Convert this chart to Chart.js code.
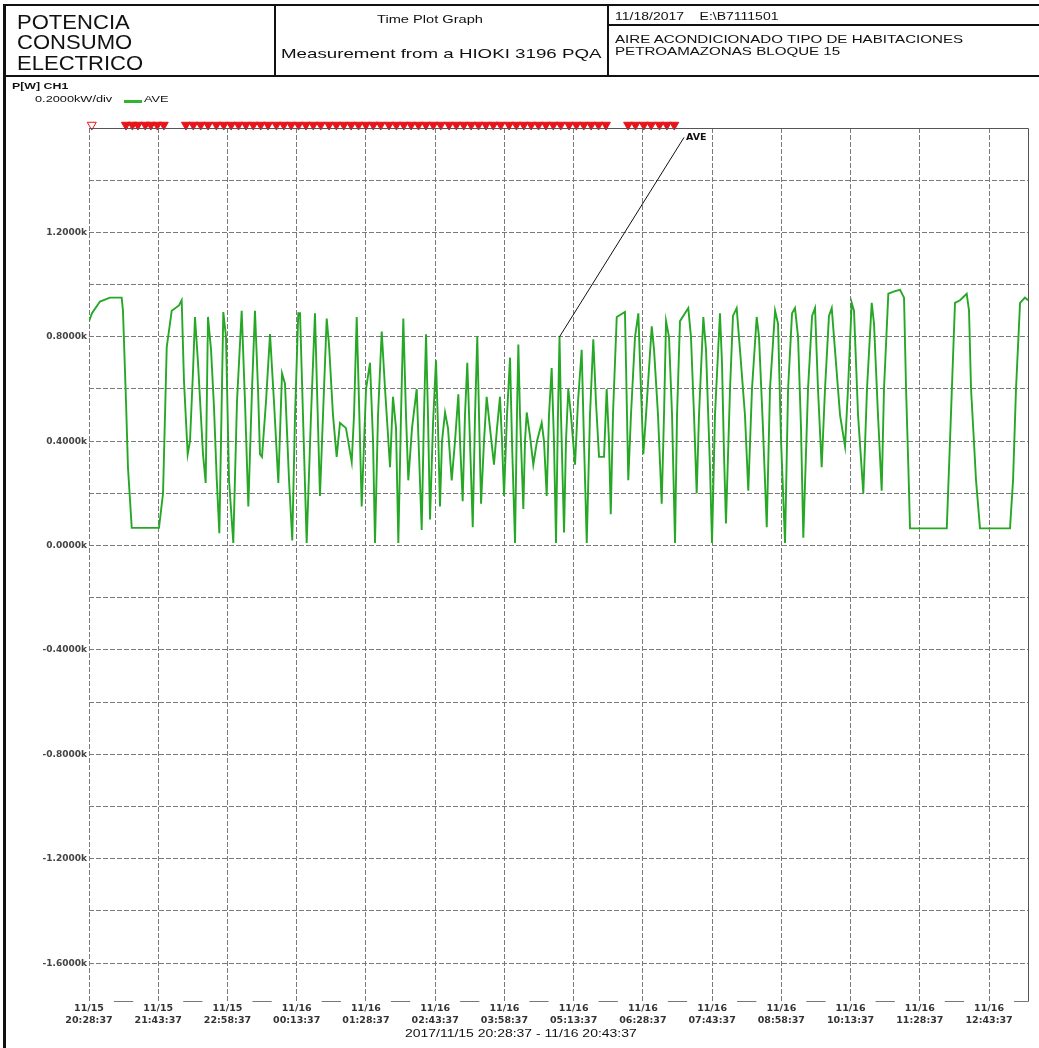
<!DOCTYPE html>
<html>
<head>
<meta charset="utf-8">
<title>Potencia consumo electrico</title>
<script src="https://cdn.jsdelivr.net/npm/chart.js@4.4.0/dist/chart.umd.min.js"></script>
<style>
    html, body { margin: 0; padding: 0; background: #fff; }
    #page { position: relative; width: 1039px; height: 1048px; overflow: hidden;
            font-family: "Liberation Sans", Arial, sans-serif; color: #111; }
    #plot { position: absolute; left: 0; top: 0; }
    .ln { position: absolute; background: #111; }
    .tx { position: absolute; white-space: pre; transform-origin: 0 0; line-height: 1; }
</style>
</head>
<body>
<div id="page">
    <canvas id="plot" width="1039" height="1048"></canvas>

    <!-- report frame -->
    <div class="ln" style="left:3px;top:4px;width:3px;height:1044px;"></div>
    <div class="ln" style="left:3px;top:4px;width:1036px;height:2px;"></div>
    <div class="ln" style="left:3px;top:75px;width:1036px;height:2px;"></div>
    <div class="ln" style="left:274px;top:4px;width:1.5px;height:72px;"></div>
    <div class="ln" style="left:607px;top:4px;width:1.5px;height:72px;"></div>
    <div class="ln" style="left:607px;top:24px;width:432px;height:1.5px;"></div>

    <!-- header -->
    <div class="tx" style="left:17px;top:11px;font-size:21px;transform:scaleX(1.05);">POTENCIA</div>
    <div class="tx" style="left:17px;top:31px;font-size:21px;transform:scaleX(1.05);">CONSUMO</div>
    <div class="tx" style="left:17px;top:52px;font-size:21px;transform:scaleX(1.05);">ELECTRICO</div>
    <div class="tx" style="left:377px;top:13.5px;font-size:11px;transform:scaleX(1.33);">Time Plot Graph</div>
    <div class="tx" style="left:281px;top:46.5px;font-size:13px;transform:scaleX(1.44);">Measurement from a HIOKI 3196 PQA</div>
    <div class="tx" style="left:615px;top:11.7px;font-size:10px;transform:scaleX(1.4);">11/18/2017    E:\B7111501</div>
    <div class="tx" style="left:615px;top:33.6px;font-size:10.5px;transform:scaleX(1.44);">AIRE ACONDICIONADO TIPO DE HABITACIONES</div>
    <div class="tx" style="left:615px;top:45.6px;font-size:10.5px;transform:scaleX(1.44);">PETROAMAZONAS BLOQUE 15</div>

    <!-- channel caption and legend -->
    <div class="tx" style="left:12px;top:81px;font-size:9.5px;font-weight:bold;transform:scaleX(1.3);">P[W] CH1</div>
    <div class="tx" style="left:35px;top:95px;font-size:8.5px;transform:scaleX(1.5);">0.2000kW/div</div>
    <div class="ln" style="left:124px;top:99.5px;width:18px;height:3px;background:#2fb52f;"></div>
    <div class="tx" style="left:144px;top:95px;font-size:8.5px;transform:scaleX(1.5);">AVE</div>

    <!-- time span under the axis -->
    <div class="tx" style="left:405px;top:1027.5px;font-size:11px;transform:scaleX(1.27);">2017/11/15 20:28:37 - 11/16 20:43:37</div>
</div>

<script>
// minutes since 11/15 20:28:37
var powerTimes = [
    0, 3.2, 11.9, 22.7, 35.4, 36.8, 40.1, 42.2, 46.3, 75.8,
    80.2, 84.2, 89.6, 97.5, 100.4, 102.9, 106.9, 109.4, 112.7, 114.8,
    118.1, 123.5, 126.4, 128.9, 132.2, 135.4, 138.3, 141.2, 145.5, 148.4,
    151.7, 156.3, 160.3, 165.4, 169.0, 172.6, 176.6, 179.8, 183.1, 185.2,
    187.4, 191.7, 196.1, 200.4, 205.1, 209.1, 212.3, 216.7, 220.2, 223.2,
    226.7, 228.6, 231.8, 235.8, 240.5, 244.8, 247.0, 250.2, 253.5, 257.5,
    260.0, 264.3, 268.3, 271.9, 278.4, 284.6, 287.1, 290.0, 292.5, 295.4,
    300.1, 304.4, 307.7, 309.8, 313.1, 317.1, 320.7, 326.1, 329.3, 332.6,
    335.1, 338.0, 340.5, 343.4, 345.9, 349.9, 355.0, 357.5, 360.4, 362.9,
    365.1, 367.2, 369.4, 372.7, 375.9, 378.1, 380.2, 382.4, 385.7, 388.9,
    392.9, 396.5, 400.1, 401.9, 404.8, 407.3, 409.8, 412.7, 415.7, 418.2,
    420.6, 422.5, 424.7, 427.9, 430.8, 434.4, 438.7, 442.0, 445.2, 447.4,
    449.6, 452.8, 456.1, 458.2, 461.5, 463.6, 465.1, 466.9, 470.5, 472.3,
    474.2, 477.7, 481.3, 485.3, 490.4, 492.9, 495.8, 498.3, 501.2, 503.7,
    505.9, 508.0, 509.7, 511.3, 514.6, 516.7, 519.2, 522.1, 526.5, 529.7,
    533.7, 536.2, 539.2, 542.7, 546.3, 549.2, 552.5, 557.9, 560.8, 563.3,
    565.2, 567.6, 571.7, 580.6, 581.7, 584.2, 587.1, 591.5, 595.1, 596.9,
    600.5, 603.4, 609.6, 612.1, 616.4, 620.4, 622.9, 625.1, 628.3, 631.6,
    634.8, 637.0, 640.2, 649.2, 652.1, 655.4, 658.3, 660.8, 665.5, 668.4,
    672.7, 674.9, 678.1, 683.5, 685.7, 687.9, 690.0, 694.4, 697.6, 701.6,
    705.2, 710.6, 714.2, 718.2, 723.3, 725.8, 730.1, 734.2, 737.7, 743.2,
    746.4, 749.7, 754.0, 757.3, 761.6, 764.8, 768.1, 771.3, 773.8, 778.9,
    783.3, 786.5, 789.7, 793.7, 797.3, 801.6, 804.6, 808.1, 813.6, 819.0,
    822.2, 826.2, 828.7, 833.1, 838.8, 842.8, 847.9, 850.4, 854.7, 858.7,
    861.2, 865.9, 873.1, 878.6, 882.9, 885.1, 887.6, 889.4, 929.2, 932.7,
    938.1, 943.6, 950.8, 953.3, 955.5, 958.0, 960.9, 965.2, 997.7, 1001.0,
    1004.2, 1008.6, 1013.9, 1017.2
];

// P[W] CH1 average, in kW
var powerKW = [
    0.86, 0.89, 0.935, 0.95, 0.95, 0.90, 0.55, 0.30, 0.068, 0.068,
    0.20, 0.76, 0.90, 0.92, 0.94, 0.63, 0.35, 0.40, 0.67, 0.876,
    0.70, 0.35, 0.24, 0.876, 0.75, 0.53, 0.26, 0.047, 0.895, 0.80,
    0.25, 0.01, 0.55, 0.90, 0.55, 0.15, 0.60, 0.90, 0.60, 0.35,
    0.34, 0.55, 0.81, 0.55, 0.24, 0.66, 0.62, 0.25, 0.02, 0.50,
    0.89, 0.89, 0.50, 0.01, 0.50, 0.89, 0.60, 0.19, 0.50, 0.87,
    0.77, 0.50, 0.34, 0.47, 0.45, 0.32, 0.50, 0.876, 0.55, 0.15,
    0.60, 0.70, 0.40, 0.01, 0.50, 0.82, 0.60, 0.30, 0.57, 0.45,
    0.01, 0.50, 0.87, 0.50, 0.25, 0.45, 0.60, 0.35, 0.06, 0.50,
    0.81, 0.50, 0.10, 0.47, 0.71, 0.45, 0.15, 0.40, 0.51, 0.45,
    0.25, 0.40, 0.58, 0.40, 0.17, 0.50, 0.70, 0.40, 0.07, 0.50,
    0.80, 0.50, 0.16, 0.40, 0.57, 0.45, 0.31, 0.45, 0.57, 0.40,
    0.19, 0.50, 0.72, 0.40, 0.01, 0.50, 0.77, 0.50, 0.14, 0.40,
    0.51, 0.42, 0.31, 0.40, 0.47, 0.40, 0.19, 0.50, 0.68, 0.40,
    0.01, 0.50, 0.80, 0.50, 0.05, 0.40, 0.60, 0.50, 0.31, 0.55,
    0.75, 0.40, 0.01, 0.50, 0.79, 0.55, 0.34, 0.34, 0.60, 0.40,
    0.12, 0.50, 0.876, 0.895, 0.70, 0.25, 0.50, 0.80, 0.89, 0.70,
    0.35, 0.50, 0.84, 0.75, 0.50, 0.16, 0.50, 0.86, 0.80, 0.50,
    0.01, 0.50, 0.86, 0.91, 0.80, 0.50, 0.20, 0.50, 0.876, 0.75,
    0.30, 0.01, 0.50, 0.89, 0.70, 0.35, 0.085, 0.60, 0.88, 0.91,
    0.75, 0.50, 0.21, 0.60, 0.876, 0.80, 0.45, 0.07, 0.60, 0.90,
    0.85, 0.40, 0.01, 0.60, 0.89, 0.91, 0.80, 0.45, 0.03, 0.60,
    0.88, 0.91, 0.60, 0.30, 0.60, 0.88, 0.91, 0.75, 0.50, 0.38,
    0.60, 0.93, 0.90, 0.50, 0.20, 0.60, 0.93, 0.85, 0.50, 0.21,
    0.60, 0.965, 0.975, 0.98, 0.95, 0.60, 0.30, 0.066, 0.066, 0.40,
    0.93, 0.94, 0.965, 0.90, 0.60, 0.44, 0.25, 0.066, 0.066, 0.25,
    0.60, 0.93, 0.95, 0.94
];

// event marks along the top edge (minutes)
var eventTimes = [
    3, 40, 47, 53, 61, 67, 74, 81,
    105, 113, 121, 129, 138, 146, 154, 162, 170, 178, 186, 194, 203, 211,
    219, 227, 235, 243, 251, 260, 268, 276, 284, 292, 300, 308, 316, 325,
    333, 341, 349, 357, 365, 373, 381, 390, 398, 406, 414, 422, 430, 438,
    446, 455, 463, 471, 479, 487, 495, 503, 511, 520, 528, 536, 544, 552, 560,
    584, 592, 601, 609, 618, 626, 634
];

// AVE cursor: from the sample to its tag
var cursorTimes = [509.7, 644.6];
var cursorKW = [0.80, 1.564];

var xTickValues = [0, 75, 150, 225, 300, 375, 450, 525, 600, 675, 750, 825, 900, 975];
var xTickDates = ['11/15', '11/15', '11/15', '11/16', '11/16', '11/16', '11/16',
                  '11/16', '11/16', '11/16', '11/16', '11/16', '11/16', '11/16'];
var xTickTimes = ['20:28:37', '21:43:37', '22:58:37', '00:13:37', '01:28:37', '02:43:37', '03:58:37',
                  '05:13:37', '06:28:37', '07:43:37', '08:58:37', '10:13:37', '11:28:37', '12:43:37'];

var yGridValues = [-1.6, -1.4, -1.2, -1.0, -0.8, -0.6, -0.4, -0.2, 0, 0.2, 0.4, 0.6, 0.8, 1.0, 1.2, 1.4, 1.6];
var yLabelValues = [-1.6, -1.2, -0.8, -0.4, 0, 0.4, 0.8, 1.2];

function toPoints(xs, ys) {
    var pts = [];
    for (var i = 0; i < xs.length && i < ys.length; i++) {
        pts.push({x: xs[i], y: ys[i]});
    }
    return pts;
}

var eventPoints = eventTimes.map(function(t) { return {x: t, y: 1.612}; });
var eventFill = eventTimes.map(function(t, i) { return i === 0 ? '#ffffff' : '#e8141a'; });

// frame of the plot (bottom edge broken by the time labels) and the cursor tag
var plotFrame = {
    id: 'plotFrame',
    afterDatasetsDraw: function(chart) {
        var ctx = chart.ctx;
        var a = chart.chartArea;
        var xs = chart.scales.x;
        ctx.save();
        ctx.strokeStyle = '#555';
        ctx.lineWidth = 1;
        ctx.beginPath();
        ctx.moveTo(a.left, a.top + 0.5);
        ctx.lineTo(a.right + 0.5, a.top + 0.5);
        ctx.lineTo(a.right + 0.5, a.bottom + 0.5);
        ctx.stroke();

        var gap = 25;
        ctx.strokeStyle = '#777';
        ctx.beginPath();
        for (var i = 0; i < xTickValues.length; i++) {
            var from = xs.getPixelForValue(xTickValues[i]) + gap;
            var to = i + 1 < xTickValues.length ? xs.getPixelForValue(xTickValues[i + 1]) - gap : a.right + 0.5;
            if (to > from) {
                ctx.moveTo(from, a.bottom + 0.5);
                ctx.lineTo(to, a.bottom + 0.5);
            }
        }
        ctx.stroke();

        var meta = chart.getDatasetMeta(1);
        var end = meta.data[meta.data.length - 1];
        ctx.fillStyle = '#111';
        ctx.font = 'bold 9.5px "DejaVu Sans"';
        ctx.textBaseline = 'middle';
        ctx.fillText('AVE', end.x + 2, end.y);
        ctx.restore();
    }
};

var gridColor = '#7a7a7a';

var config = {
    type: 'line',
    data: {
        datasets: [{
            label: 'AVE',
            data: toPoints(powerTimes, powerKW),
            borderColor: '#26a826',
            borderWidth: 1.9,
            pointRadius: 0,
            tension: 0,
            order: 3
        }, {
            label: 'cursor',
            data: toPoints(cursorTimes, cursorKW),
            borderColor: '#111',
            borderWidth: 1,
            pointRadius: 0,
            clip: false,
            order: 2
        }, {
            label: 'events',
            data: eventPoints,
            showLine: false,
            pointStyle: 'triangle',
            rotation: 180,
            pointRadius: 5.2,
            pointBackgroundColor: eventFill,
            pointBorderColor: '#e8141a',
            pointBorderWidth: 1,
            clip: false,
            order: 1
        }]
    },
    options: {
        responsive: false,
        animation: false,
        layout: {
            padding: {left: 0, right: 11, top: 128, bottom: 0}
        },
        plugins: {
            legend: {display: false},
            tooltip: {enabled: false}
        },
        scales: {
            x: {
                type: 'linear',
                min: 0,
                max: 1017.2,
                afterBuildTicks: function(scale) {
                    scale.ticks = xTickValues.map(function(v) { return {value: v}; });
                },
                afterFit: function(scale) { scale.height = 47; },
                grid: {color: gridColor, lineWidth: 1, drawTicks: false},
                border: {display: false, dash: [5, 2]},
                ticks: {
                    autoSkip: false,
                    maxRotation: 0,
                    padding: 1,
                    color: '#333',
                    font: {family: '"DejaVu Sans"', size: 9.5, weight: 'bold', lineHeight: 1.3},
                    callback: function(v, i) { return [xTickDates[i], xTickTimes[i]]; }
                }
            },
            y: {
                min: -1.745,
                max: 1.6,
                afterBuildTicks: function(scale) {
                    scale.ticks = yGridValues.map(function(v) { return {value: v}; });
                },
                afterFit: function(scale) { scale.width = 89; },
                grid: {color: gridColor, lineWidth: 1, drawTicks: false},
                border: {display: false, dash: [5, 2]},
                ticks: {
                    padding: 2,
                    color: '#444',
                    font: {family: '"DejaVu Sans"', size: 9, weight: 'bold'},
                    callback: function(v) {
                        var r = Math.round(v * 10) / 10;
                        if (yLabelValues.indexOf(r) < 0) return '';
                        return (r === 0 ? 0 : r).toFixed(4) + 'k';
                    }
                }
            }
        }
    },
    plugins: [plotFrame]
};

var ctx = document.getElementById('plot');
window.myChart = new Chart(ctx, config);
</script>
</body>
</html>
